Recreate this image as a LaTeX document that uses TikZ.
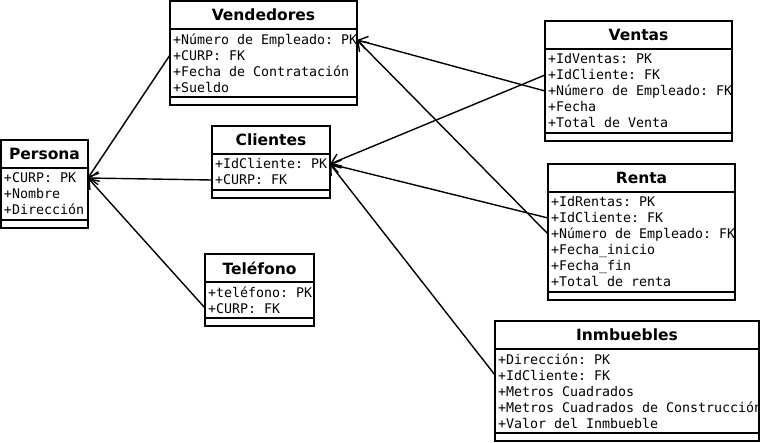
\documentclass[tikz,border=0pt]{standalone}
\usepackage{fontspec}
\usetikzlibrary{positioning,arrows.meta}
\newfontfamily\umlsans{DejaVu Sans}
\newfontfamily\umlmono{DejaVu Sans Mono}[WordSpace={1,0,0}]
\newcommand{\attrfont}{\umlmono\fontsize{13.3}{16}\selectfont\fontdimen2\font=8pt\relax}
\newcommand{\fixspace}{\spaceskip 8pt\relax\xspaceskip 8pt\relax\rightskip 0pt plus 1fil minus 30pt\relax\hyphenpenalty 10000\relax}

\begin{document}
\begin{tikzpicture}[x=1pt, y=-1pt,
	titleBox/.style={rectangle, draw=black, line width=1.9pt, outer sep=0pt, inner sep=0pt, anchor=north west, minimum width=#1, minimum height=28pt, font=\umlsans\bfseries\fontsize{15.5}{18}\selectfont},
	attrBox/.style={rectangle, draw=black, line width=1.9pt, outer sep=0pt, inner xsep=3pt, inner ysep=0pt, text width=#1, align=left, font=\attrfont, execute at begin node=\fixspace},
	endBox/.style={rectangle, draw=black, line width=1.9pt, outer sep=0pt, inner sep=0pt, minimum width=#1, minimum height=8pt},
	assoc/.style={line width=1.4pt, -{Straight Barb[length=9pt, width=13pt]}}]

		\useasboundingbox (0,0) rectangle (760,442);

		% Persona
		\node[titleBox=87pt](personaBox) at (1,140){Persona};
		\node[attrBox=81pt, minimum height=52pt, below=0pt of personaBox](personaAttr){+CURP: PK\\+Nombre\\+Dirección};
		\node[endBox=87pt, below=0pt of personaAttr](personaEnd){};

		% Vendedores
		\node[titleBox=187pt](vendedoresBox) at (170,1){Vendedores};
		\node[attrBox=181pt, minimum height=68pt, below=0pt of vendedoresBox](vendedoresAttr){+Número de Empleado: PK\\+CURP: FK\\+Fecha de Contratación\\+Sueldo};
		\node[endBox=187pt, below=0pt of vendedoresAttr](vendedoresEnd){};

		% Clientes
		\node[titleBox=118pt](clientesBox) at (212,126){Clientes};
		\node[attrBox=112pt, minimum height=36pt, below=0pt of clientesBox](clientesAttr){+IdCliente: PK\\+CURP: FK};
		\node[endBox=118pt, below=0pt of clientesAttr](clientesEnd){};

		% Telefono
		\node[titleBox=109pt](telefonoBox) at (205,254){Teléfono};
		\node[attrBox=103pt, minimum height=36pt, below=0pt of telefonoBox](telefonoAttr){+teléfono: PK\\+CURP: FK};
		\node[endBox=109pt, below=0pt of telefonoAttr](telefonoEnd){};

		% Ventas
		\node[titleBox=187pt](ventasBox) at (545,21){Ventas};
		\node[attrBox=181pt, minimum height=84pt, below=0pt of ventasBox](ventasAttr){+IdVentas: PK\\+IdCliente: FK\\+Número de Empleado: FK\\+Fecha\\+Total de Venta};
		\node[endBox=187pt, below=0pt of ventasAttr](ventasEnd){};

		% Renta
		\node[titleBox=187pt](rentaBox) at (548,164){Renta};
		\node[attrBox=181pt, minimum height=100pt, below=0pt of rentaBox](rentaAttr){+IdRentas: PK\\+IdCliente: FK\\+Número de Empleado: FK\\+Fecha\_inicio\\+Fecha\_fin\\+Total de renta};
		\node[endBox=187pt, below=0pt of rentaAttr](rentaEnd){};

		% Inmbuebles
		\node[titleBox=264pt](inmbueblesBox) at (495,321){Inmbuebles};
		\node[attrBox=258pt, minimum height=84pt, below=0pt of inmbueblesBox](inmbueblesAttr){+Dirección: PK\\+IdCliente: FK\\+Metros Cuadrados\\+Metros Cuadrados de Construcción\\+Valor del Inmbueble};
		\node[endBox=264pt, below=0pt of inmbueblesAttr](inmbueblesEnd){};

		% relations
		\draw [assoc] ([yshift=8pt]vendedoresAttr.west) -- ([yshift=16pt]personaAttr.east);
		\draw [assoc] ([yshift=-8pt]clientesAttr.west) -- ([yshift=16pt]personaAttr.east);
		\draw [assoc] ([yshift=-8pt]telefonoAttr.west) -- ([yshift=16pt]personaAttr.east);
		\draw [assoc] (ventasAttr.west) -- ([yshift=23pt]vendedoresAttr.east);
		\draw [assoc] ([yshift=8pt]rentaAttr.west) -- ([yshift=23pt]vendedoresAttr.east);
		\draw [assoc] ([yshift=16pt]ventasAttr.west) -- ([yshift=8pt]clientesAttr.east);
		\draw [assoc] ([yshift=24pt]rentaAttr.west) -- ([yshift=8pt]clientesAttr.east);
		\draw [assoc] ([yshift=16pt]inmbueblesAttr.west) -- ([yshift=8pt]clientesAttr.east);
	\end{tikzpicture}
\end{document}
